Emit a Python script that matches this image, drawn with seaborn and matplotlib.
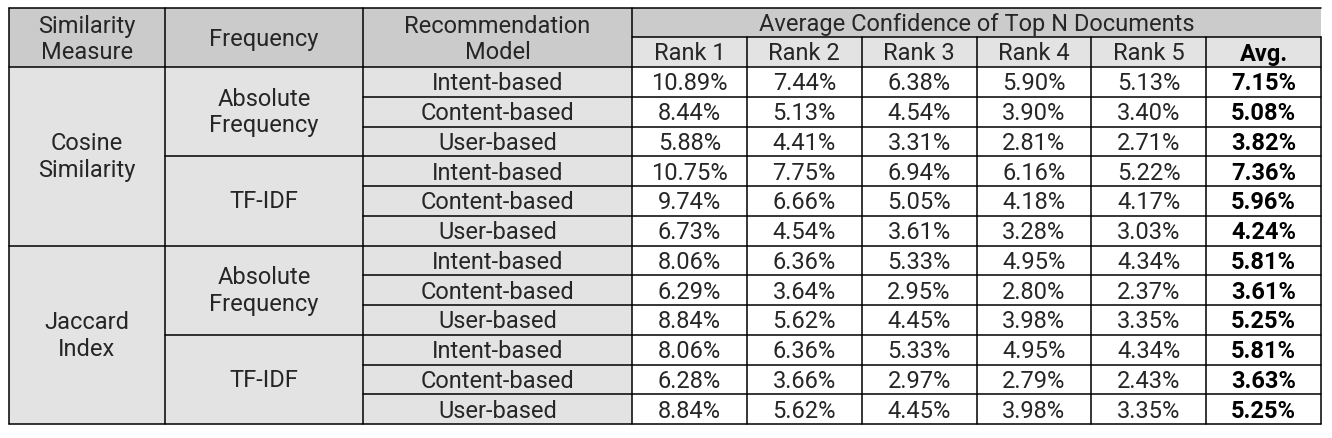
import numpy as np
import pandas as pd
import matplotlib.pyplot as plt
from matplotlib.colors import ListedColormap
from matplotlib.patches import Rectangle
import seaborn as sns

# table content
similarity = ["Cosine\nSimilarity", "Jaccard\nIndex"]
frequency = ["Absolute\nFrequency", "TF-IDF"]
models = ["Intent-based", "Content-based", "User-based"]
rank_labels = ["Rank 1", "Rank 2", "Rank 3", "Rank 4", "Rank 5", "Avg."]

rank1 = [10.89, 8.44, 5.88, 10.75, 9.74, 6.73, 8.06, 6.29, 8.84, 8.06, 6.28, 8.84]
rank2 = [7.44, 5.13, 4.41, 7.75, 6.66, 4.54, 6.36, 3.64, 5.62, 6.36, 3.66, 5.62]
rank3 = [6.38, 4.54, 3.31, 6.94, 5.05, 3.61, 5.33, 2.95, 4.45, 5.33, 2.97, 4.45]
rank4 = [5.90, 3.90, 2.81, 6.16, 4.18, 3.28, 4.95, 2.80, 3.98, 4.95, 2.79, 3.98]
rank5 = [5.13, 3.40, 2.71, 5.22, 4.17, 3.03, 4.34, 2.37, 3.35, 4.34, 2.43, 3.35]
avg = [7.15, 5.08, 3.82, 7.36, 5.96, 4.24, 5.81, 3.61, 5.25, 5.81, 3.63, 5.25]

df = pd.DataFrame({"Rank 1": rank1, "Rank 2": rank2, "Rank 3": rank3,
                   "Rank 4": rank4, "Rank 5": rank5, "Avg.": avg})
labels = df.map(lambda v: f"{v:.2f}%").values

sns.set_theme(style="white")
plt.rcParams["font.family"] = ["Roboto", "DejaVu Sans"]

W, H = 1332, 438
fig = plt.figure(figsize=(W / 100, H / 100), dpi=100)

# layout in pixels
cols = [9, 165, 363, 632]
data_left, data_right = 632, 1321
top, mid, head_bot, bottom = 8, 37, 67, 424
row_h = (bottom - head_bot) / 12
dark = "#cbcbcb"
light = "#e3e3e3"
txt = "#262626"
fs = 17
reg = "normal"
dy = 2  # nudge text down a bit

# background axes for headers and left columns
bg = fig.add_axes([0, 0, 1, 1])
bg.set_xlim(0, W)
bg.set_ylim(H, 0)
bg.axis("off")
bg.add_patch(Rectangle((cols[0], top), data_right - cols[0], mid - top, color=dark, lw=0))
bg.add_patch(Rectangle((cols[0], top), cols[3] - cols[0], head_bot - top, color=dark, lw=0))
bg.add_patch(Rectangle((data_left, mid), data_right - data_left, head_bot - mid, color=light, lw=0))
bg.add_patch(Rectangle((cols[0], head_bot), cols[3] - cols[0], bottom - head_bot, color=light, lw=0))

# data block through seaborn heatmap
hx = fig.add_axes([data_left / W, 1 - bottom / H, (data_right - data_left) / W,
                   (bottom - head_bot) / H])
sns.heatmap(df, ax=hx, cmap=ListedColormap(["white"]), cbar=False, annot=labels, fmt="",
            annot_kws={"fontsize": fs, "color": txt, "fontweight": reg},
            xticklabels=False, yticklabels=False)
for t in hx.texts:
    x, y = t.get_position()
    t.set_y(y + dy / row_h)
    if x > 5:
        t.set_fontweight("bold")
        t.set_color("black")

# overlay for text and rules
ov = fig.add_axes([0, 0, 1, 1], facecolor="none")
ov.set_xlim(0, W)
ov.set_ylim(H, 0)
ov.axis("off")
lw = 1.1

heads = ["Similarity\nMeasure", "Frequency", "Recommendation\nModel"]
for i, h in enumerate(heads):
    ov.text((cols[i] + cols[i + 1]) / 2, (top + head_bot) / 2 + dy, h, ha="center", va="center",
            fontsize=fs, color=txt, linespacing=1.2, fontweight=reg)
ov.text((data_left + data_right) / 2, (top + mid) / 2 + dy, "Average Confidence of Top N Documents",
        ha="center", va="center", fontsize=fs, color=txt, fontweight=reg)
col_w = (data_right - data_left) / len(rank_labels)
for j, r in enumerate(rank_labels):
    ov.text(data_left + (j + 0.5) * col_w, (mid + head_bot) / 2 + dy, r, ha="center", va="center",
            fontsize=fs, color="black" if r == "Avg." else txt,
            fontweight="bold" if r == "Avg." else reg)

for s, sname in enumerate(similarity):
    y0 = head_bot + s * 6 * row_h
    ov.text((cols[0] + cols[1]) / 2, y0 + 3 * row_h + 1, sname, ha="center", va="center",
            fontsize=fs, color=txt, linespacing=1.2, fontweight=reg)
    for f, fname in enumerate(frequency):
        y1 = y0 + f * 3 * row_h
        ov.text((cols[1] + cols[2]) / 2, y1 + 1.5 * row_h + 1, fname, ha="center", va="center",
                fontsize=fs, color=txt, linespacing=1.2, fontweight=reg)
        for m, mname in enumerate(models):
            ov.text((cols[2] + cols[3]) / 2, y1 + (m + 0.5) * row_h + dy, mname, ha="center",
                    va="center", fontsize=fs, color=txt, fontweight=reg)

# rules
ov.plot([cols[0], data_right], [top, top], color="black", lw=lw)
ov.plot([data_left, data_right], [mid, mid], color="black", lw=lw)
ov.plot([cols[0], data_right], [head_bot, head_bot], color="black", lw=lw)
for k in range(1, 13):
    y = head_bot + k * row_h
    if k % 6 == 0:
        x0 = cols[0]
    elif k % 3 == 0:
        x0 = cols[1]
    else:
        x0 = cols[2]
    ov.plot([x0, data_right], [y, y], color="black", lw=lw)
for x in cols:
    ov.plot([x, x], [top, bottom], color="black", lw=lw)
for j in range(1, len(rank_labels) + 1):
    x = data_left + j * col_w
    ov.plot([x, x], [mid, bottom], color="black", lw=lw)

fig.savefig("out.png", dpi=100)
